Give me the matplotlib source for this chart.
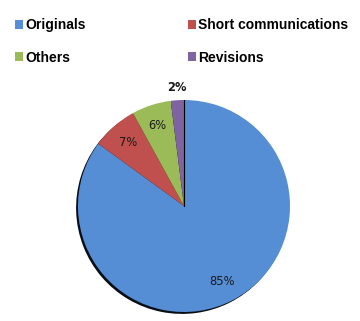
import matplotlib.pyplot as plt
import numpy as np
from matplotlib.patches import Patch

labels = ['Originals', 'Short communications', 'Others', 'Revisions']
values = [85, 7, 6, 2]
colors = ['#558ED5', '#C0504D', '#9BBB59', '#8064A2']

fig = plt.figure(figsize=(3.6, 3.21), dpi=100)
ax = fig.add_axes([78 / 360, 9 / 321, 212 / 360, 212 / 321])

wedges, texts, pcts = ax.pie(values, colors=colors, startangle=90, counterclock=False,
                             autopct='%1.0f%%', pctdistance=0.8, radius=1,
                             wedgeprops=dict(linewidth=0),
                             shadow={'ox': -0.013, 'oy': -0.013, 'shade': 0.9, 'alpha': 1},
                             textprops=dict(fontsize=8.3, family='DejaVu Sans', color='#1a1a1a'))
ax.plot([0, 0], [0, 1], color='black', lw=0.8)
ax.set_xlim(-1, 1)
ax.set_ylim(-1, 1)
ax.set_aspect('equal')
ax.axis('off')

# small slice label sits outside the pie, in bold
w = wedges[3]
ang = np.deg2rad((w.theta1 + w.theta2) / 2)
pcts[3].set_position((1.12 * np.cos(ang), 1.12 * np.sin(ang)))
pcts[3].set_fontweight('bold')

handles = [Patch(facecolor=c, edgecolor='none') for c in colors]
order = [0, 2, 1, 3]
fig.legend([handles[i] for i in order], [labels[i] for i in order],
           loc='upper left', bbox_to_anchor=(15 / 360, 1 - 18 / 321), ncol=2,
           frameon=False, handlelength=0.6, handleheight=0.6, handletextpad=0.15,
           columnspacing=7.35, labelspacing=1.35, borderpad=0, borderaxespad=0,
           prop=dict(family='Liberation Sans', weight='bold', size=10))

fig.savefig('out.png', dpi=100)
